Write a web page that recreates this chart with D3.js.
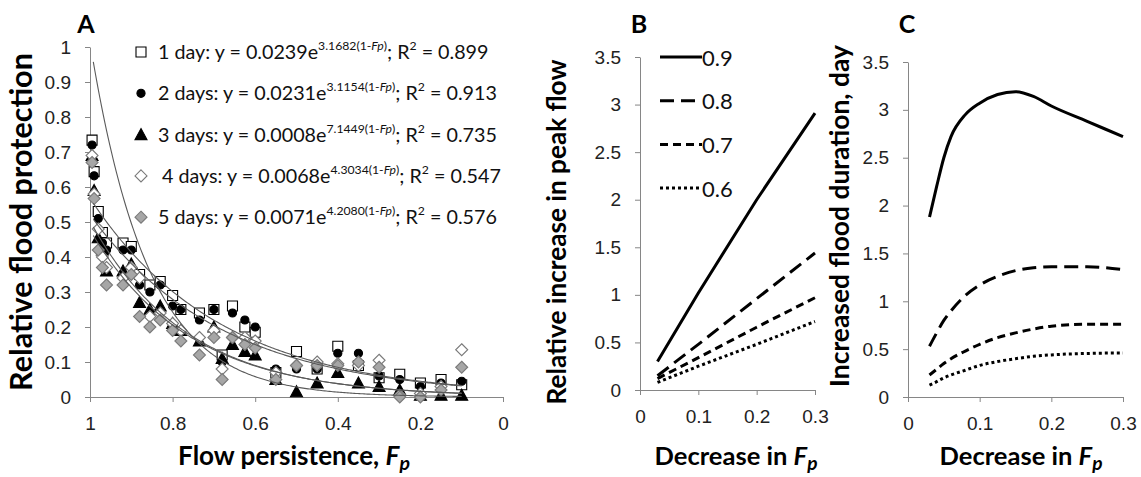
<!DOCTYPE html>
<html>
<head>
<meta charset="utf-8">
<script src="https://cdn.jsdelivr.net/npm/d3@7"></script>
<style>
  body { margin: 0; background: #fff; }
  svg { font-family: Lato, "Open Sans", sans-serif; }
</style>
</head>
<body>
<svg id="chart" width="1141" height="477"></svg>
<script>
// ---- panel A: flood protection vs flow persistence ----
const sitesFp = [0.995, 0.99, 0.98, 0.97, 0.96, 0.92, 0.90, 0.88, 0.855, 0.83, 0.80, 0.78, 0.735, 0.70,
                 0.68, 0.655, 0.625, 0.60, 0.55, 0.50, 0.45, 0.40, 0.35, 0.30, 0.25, 0.20, 0.15, 0.10];
const protect1 = [0.734, 0.644, 0.53, 0.47, 0.44, 0.44, 0.43, 0.35, 0.32, 0.33, 0.29, 0.25, 0.24, 0.25,
                  0.12, 0.26, 0.20, 0.185, 0.07, 0.13, 0.08, 0.145, 0.09, 0.055, 0.065, 0.04, 0.05, 0.035];
const protect2 = [0.72, 0.632, 0.51, 0.44, 0.42, 0.42, 0.42, 0.32, 0.30, 0.32, 0.26, 0.25, 0.22, 0.25,
                  0.10, 0.24, 0.22, 0.20, 0.08, 0.08, 0.08, 0.125, 0.125, 0.06, 0.05, 0.03, 0.04, 0.045];
const protect3 = [0.69, 0.59, 0.455, 0.42, 0.36, 0.36, 0.38, 0.27, 0.25, 0.26, 0.21, 0.19, 0.16, 0.20,
                  0.11, 0.15, 0.13, 0.12, 0.05, 0.015, 0.04, 0.07, 0.04, 0.03, 0.02, 0.005, 0.005, 0.005];
const protect4 = [0.69, 0.58, 0.48, 0.40, 0.37, 0.34, 0.37, 0.34, 0.23, 0.24, 0.21, 0.19, 0.17, 0.19,
                  0.08, 0.17, 0.17, 0.16, 0.07, 0.09, 0.10, 0.095, 0.09, 0.105, 0.005, 0.01, 0.03, 0.135];
const protect5 = [0.67, 0.567, 0.42, 0.37, 0.32, 0.32, 0.35, 0.23, 0.20, 0.22, 0.19, 0.16, 0.12, 0.17,
                  0.05, 0.17, 0.15, 0.14, 0.05, 0.09, 0.09, 0.09, 0.10, 0.085, 0.0, 0.0, 0.02, 0.085];
const dayLabels = ["1 day", "2 days", "3 days", "4 days", "5 days"];
const fitCoef = ["0.0239", "0.0231", "0.0008", "0.0068", "0.0071"];
const fitExp = ["3.1682", "3.1154", "7.1449", "4.3034", "4.2080"];
const fitR2 = ["0.899", "0.913", "0.735", "0.547", "0.576"];
const fitRange = [0.1, 0.992];
const ticksA_x = [1, 0.8, 0.6, 0.4, 0.2, 0];
const ticksA_y = [0, 0.1, 0.2, 0.3, 0.4, 0.5, 0.6, 0.7, 0.8, 0.9, 1];

// ---- panels B, C: change vs decrease in Fp, one line per Fp level ----
const levels = ["0.9", "0.8", "0.7", "0.6"];
const peakX = [0.03, 0.1, 0.2, 0.3];
const peak09 = [0.30, 1.02, 2.00, 2.91];
const peak08 = [0.15, 0.48, 0.96, 1.44];
const peak07 = [0.12, 0.34, 0.66, 0.97];
const peak06 = [0.08, 0.25, 0.48, 0.72];
const durX = [0.03, 0.04, 0.05, 0.06, 0.08, 0.1, 0.125, 0.15, 0.175, 0.2, 0.25, 0.3];
const dur09 = [1.88, 2.2, 2.5, 2.72, 2.95, 3.07, 3.16, 3.19, 3.14, 3.04, 2.88, 2.72];
const dur08 = [0.53, 0.67, 0.80, 0.90, 1.06, 1.17, 1.26, 1.32, 1.35, 1.36, 1.36, 1.33];
const dur07 = [0.23, 0.29, 0.35, 0.40, 0.48, 0.55, 0.62, 0.67, 0.71, 0.74, 0.76, 0.76];
const dur06 = [0.125, 0.16, 0.20, 0.23, 0.28, 0.33, 0.37, 0.40, 0.425, 0.44, 0.455, 0.46];
const ticksBC_x = [0, 0.1, 0.2, 0.3];
const ticksBC_y = [0, 0.5, 1, 1.5, 2, 2.5, 3, 3.5];

const svg = d3.select("#chart");
const axisColor = "#868686";
const tickFont = 19;
const fmt = d => String(+d.toFixed(2));

function styleAxis(g) {
  g.selectAll("path, line").attr("stroke", axisColor);
  g.selectAll("text").style("font-size", tickFont + "px").attr("fill", "#222");
}

function drawAxes(x, y, xt, yt) {
  const [x0] = x.range();
  const [y0] = y.range();
  svg.append("g").attr("transform", `translate(0,${y0})`)
    .call(d3.axisBottom(x).tickValues(xt).tickFormat(fmt).tickSize(5).tickSizeOuter(0).tickPadding(15))
    .call(styleAxis);
  svg.append("g").attr("transform", `translate(${x0},0)`)
    .call(d3.axisLeft(y).tickValues(yt).tickFormat(fmt).tickSize(5).tickSizeOuter(0).tickPadding(14))
    .call(styleAxis);
}

// fit a text element to a target length by scaling its font size
function fitWidth(t, target) {
  const w = t.node().getComputedTextLength();
  const fs = parseFloat(t.style("font-size"));
  t.style("font-size", (fs * target / w) + "px");
}

function fpTitle(t, lead) {
  t.append("tspan").text(lead);
  t.append("tspan").style("font-style", "italic").text("F");
  t.append("tspan").style("font-style", "italic").style("font-size", "0.75em").attr("dy", 5).text("p");
}

function yTitle(cx, cy, label, len) {
  const t = svg.append("text")
    .attr("transform", `translate(${cx},${cy}) rotate(-90)`)
    .attr("text-anchor", "middle").attr("dominant-baseline", "central")
    .style("font-weight", "bold").style("font-size", "22px").text(label);
  fitWidth(t, len);
}

function xTitle(cx, label, len) {
  const t = svg.append("text").attr("x", cx).attr("y", 465)
    .attr("text-anchor", "middle")
    .style("font-weight", "bold").style("font-size", "22px");
  fpTitle(t, label);
  fitWidth(t, len);
}

function panelTag(x, label) {
  svg.append("text").attr("x", x).attr("y", 33).attr("text-anchor", "middle")
    .style("font-weight", "bold").style("font-size", "25px").text(label);
}

// ===== Panel A =====
const xA = d3.scaleLinear().domain([1, 0]).range([90, 503]);
const yA = d3.scaleLinear().domain([0, 1]).range([397, 47]);
drawAxes(xA, yA, ticksA_x, ticksA_y);

const sq = "M-5,-5H5V5H-5Z";
const tri = "M0,-6L6,5H-6Z";
const dia = "M0,-6L6,0L0,6L-6,0Z";
const circ = d3.symbol(d3.symbolCircle, 52)();
const markers = [
  { path: sq, fill: "#fff", stroke: "#000" },
  { path: circ, fill: "#000", stroke: "#000" },
  { path: tri, fill: "#000", stroke: "#000" },
  { path: dia, fill: "#fff", stroke: "#7a7a7a" },
  { path: dia, fill: "#a6a6a6", stroke: "#7a7a7a" }
];
const protect = [protect1, protect2, protect3, protect4, protect5];

protect.forEach((vals, i) => {
  const m = markers[i];
  svg.append("g").selectAll("path")
    .data(vals.map((v, j) => [sitesFp[j], v]))
    .join("path")
    .attr("d", m.path)
    .attr("transform", d => `translate(${xA(d[0])},${yA(d[1])})`)
    .attr("fill", m.fill).attr("stroke", m.stroke).attr("stroke-width", 1.1);
});

// trend lines from the fitted equations in the legend
const fpSamples = d3.range(fitRange[0], fitRange[1] + 1e-9, 0.004);
const trendLine = d3.line().x(d => xA(d[0])).y(d => yA(d[1]));
fitCoef.forEach((a, i) => {
  svg.append("path")
    .attr("d", trendLine(fpSamples.map(f => [f, +a * Math.exp(+fitExp[i] * f)])))
    .attr("fill", "none").attr("stroke", "#5a5a5a").attr("stroke-width", 1.1);
});

// legend A
const legA = svg.append("g");
const rows = [];
dayLabels.forEach((lab, i) => {
  const cy = 52 + i * 41.3;
  legA.append("path").attr("d", markers[i].path)
    .attr("transform", `translate(141,${cy})`)
    .attr("fill", markers[i].fill).attr("stroke", markers[i].stroke).attr("stroke-width", 1.1);
  const t = legA.append("text").attr("x", i === 3 ? 162 : 158).attr("y", cy + 7)
    .style("font-size", "20px").attr("fill", "#111");
  t.append("tspan").text(`${lab}: y = ${fitCoef[i]}e`);
  t.append("tspan").attr("dy", -9).style("font-size", "0.62em").text(`${fitExp[i]}(1-`);
  t.append("tspan").style("font-size", "0.62em").style("font-style", "italic").text("Fp");
  t.append("tspan").style("font-size", "0.62em").text(")");
  t.append("tspan").attr("dy", 9).text("; R");
  t.append("tspan").attr("dy", -9).style("font-size", "0.62em").text("2");
  t.append("tspan").attr("dy", 9).text(` = ${fitR2[i]}`);
  rows.push(t);
});
fitWidth(rows[1], 339);
rows.forEach(t => t.style("font-size", rows[1].style("font-size")));

panelTag(86, "A");
yTitle(20, 222, "Relative flood protection", 338);
xTitle(294, "Flow persistence, ", 232);

// ===== Panels B and C =====
const dashes = [null, "14 7", "8 5", "3 3"];

function linePanel(x, y, xs, series, curve) {
  drawAxes(x, y, ticksBC_x, ticksBC_y);
  const line = d3.line().x(d => x(d[0])).y(d => y(d[1])).curve(curve);
  series.forEach((vals, i) => {
    svg.append("path")
      .attr("d", line(vals.map((v, j) => [xs[j], v])))
      .attr("fill", "none").attr("stroke", "#000").attr("stroke-width", 3)
      .attr("stroke-dasharray", dashes[i]);
  });
}

const xB = d3.scaleLinear().domain([0, 0.3]).range([640, 815]);
const yB = d3.scaleLinear().domain([0, 3.5]).range([390, 57]);
linePanel(xB, yB, peakX, [peak09, peak08, peak07, peak06], d3.curveLinear);

levels.forEach((lv, i) => {
  const cy = 57 + i * 43.7;
  svg.append("line").attr("x1", 660).attr("x2", 702).attr("y1", cy).attr("y2", cy)
    .attr("stroke", "#000").attr("stroke-width", 3).attr("stroke-dasharray", dashes[i]);
  svg.append("text").attr("x", 702).attr("y", cy).attr("dominant-baseline", "central")
    .style("font-size", "22px").attr("fill", "#111").text(lv);
});

panelTag(639, "B");
yTitle(556, 232, "Relative increase in peak flow", 345);
xTitle(736, "Decrease in ", 163);

const xC = d3.scaleLinear().domain([0, 0.3]).range([908, 1123]);
const yC = d3.scaleLinear().domain([0, 3.5]).range([397, 62]);
linePanel(xC, yC, durX, [dur09, dur08, dur07, dur06], d3.curveMonotoneX);

panelTag(907, "C");
yTitle(839, 216, "Increased flood duration, day", 342);
xTitle(1021, "Decrease in ", 163);
</script>
</body>
</html>
